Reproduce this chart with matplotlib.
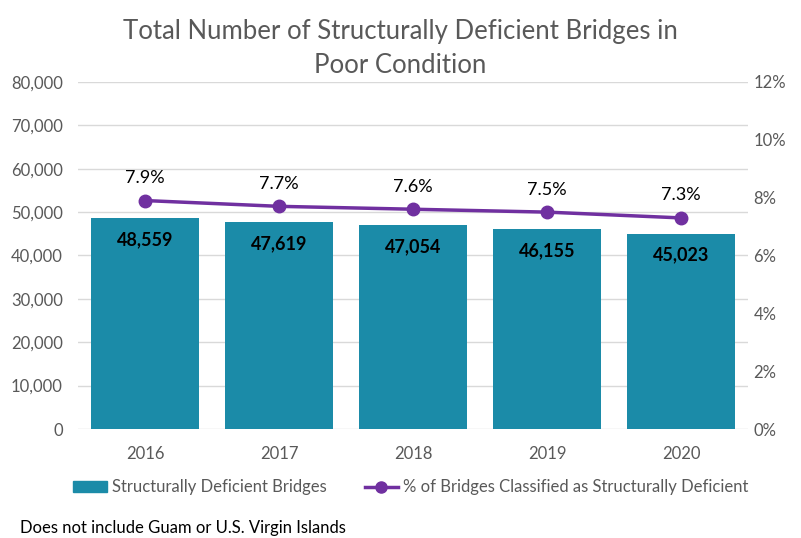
import matplotlib.pyplot as plt
from matplotlib.ticker import FuncFormatter
from matplotlib.lines import Line2D
from matplotlib.patches import Patch

plt.rcParams['font.family'] = ['Lato', 'DejaVu Sans']

years = ['2016', '2017', '2018', '2019', '2020']
bridges = [48559, 47619, 47054, 46155, 45023]
pct = [7.9, 7.7, 7.6, 7.5, 7.3]

bar_color = '#1B8BA8'
line_color = '#7030A0'
grey = '#595959'

fig = plt.figure(figsize=(8.01, 5.38), dpi=100)
ax = fig.add_axes([0.0974, 0.2026, 0.8364, 0.645])
x = list(range(len(years)))

ax.bar(x, bridges, width=0.8, color=bar_color, zorder=2)
ax.set_ylim(0, 80000)
ax.set_xlim(-0.5, len(years) - 0.5)
ax.set_yticks(range(0, 80001, 10000))
ax.yaxis.set_major_formatter(FuncFormatter(lambda v, p: f'{int(v):,}'))
ax.set_xticks(x)
ax.set_xticklabels(years)
ax.grid(axis='y', color='#D9D9D9', linewidth=1, zorder=0)
ax.set_axisbelow(True)
for s in ax.spines.values():
    s.set_visible(False)
ax.tick_params(length=0, labelsize=12, colors=grey, pad=11)
ax.tick_params(axis='x', pad=12)

for xi, v in zip(x, bridges):
    ax.text(xi, v - 3000, f'{v:,}', ha='center', va='top', fontsize=13,
            fontweight='bold', color='black', zorder=3)

ax2 = ax.twinx()
ax2.plot(x, pct, color=line_color, linewidth=2.5, marker='o', markersize=9, zorder=4)
ax2.set_ylim(0, 12)
ax2.set_yticks(range(0, 13, 2))
ax2.yaxis.set_major_formatter(FuncFormatter(lambda v, p: f'{int(v)}%'))
for s in ax2.spines.values():
    s.set_visible(False)
ax2.tick_params(length=0, labelsize=12, colors=grey, pad=4)

for xi, v in zip(x, pct):
    ax2.text(xi, v + 0.5, f'{v}%', ha='center', va='bottom', fontsize=13, color='black')

fig.suptitle('Total Number of Structurally Deficient Bridges in\nPoor Condition',
             fontsize=18.5, color=grey, y=0.965, linespacing=1.45)

handles = [Patch(color=bar_color),
           Line2D([], [], color=line_color, linewidth=2.5, marker='o', markersize=8)]
fig.legend(handles, ['Structurally Deficient Bridges',
                     '% of Bridges Classified as Structurally Deficient'],
           loc='center', bbox_to_anchor=(0.513, 0.094), ncol=2, frameon=False,
           fontsize=12, labelcolor=grey, handlelength=2.0, handletextpad=0.3,
           columnspacing=2.3)

fig.text(0.025, 0.018, 'Does not include Guam or U.S. Virgin Islands', fontsize=12,
         color='black', ha='left', va='center')

fig.savefig('out.png', dpi=100)
